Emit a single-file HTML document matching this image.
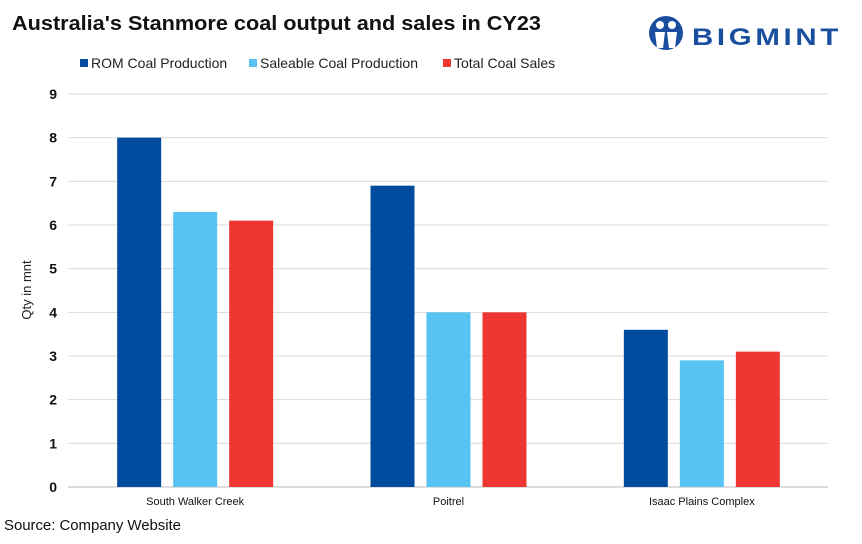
<!DOCTYPE html>
<html><head><meta charset="utf-8"><style>
body{margin:0;background:#fff;width:862px;height:539px;overflow:hidden;font-family:"Liberation Sans",sans-serif}
svg text{font-family:"Liberation Sans",sans-serif}
</style></head><body>
<svg id="c" width="862" height="539">
<text x="12" y="30" font-size="20" font-weight="bold" fill="#111" textLength="529" lengthAdjust="spacingAndGlyphs">Australia's Stanmore coal output and sales in CY23</text>
<g>
<circle cx="666" cy="33" r="17" fill="#1a4fa0"/>
<circle cx="660" cy="25" r="4" fill="#fff"/><circle cx="672" cy="25" r="4" fill="#fff"/>
<path d="M655 32 L665 32 L663 48 L657 48Z M667 32 L677 32 L675 48 L669 48Z" fill="#fff"/>
<text x="692" y="45" font-size="24" font-weight="bold" fill="#1a4fa0" textLength="150" lengthAdjust="spacingAndGlyphs" letter-spacing="3">BIGMINT</text>
</g>
<g id="legend"></g>
<g id="plot"></g>
<text transform="translate(31,290) rotate(-90)" text-anchor="middle" font-size="13" fill="#222">Qty in mnt</text>
<text x="4" y="530" font-size="15" fill="#111" textLength="177">Source: Company Website</text>
</svg>
<script>
const categories=["South Walker Creek","Poitrel","Isaac Plains Complex"];
const seriesNames=["ROM Coal Production","Saleable Coal Production","Total Coal Sales"];
const romValues=[8.0,6.9,3.6];
const saleableValues=[6.3,4.0,2.9];
const salesValues=[6.1,4.0,3.1];
const yTicks=[0,1,2,3,4,5,6,7,8,9];
const colors=["#004b9e","#56c3f2","#ee3733"];
const NS="http://www.w3.org/2000/svg";
const x0=68,x1=828,yB=487,yT=94,yMax=9;
const y=v=>yB-(v/yMax)*(yB-yT);
const band=(x1-x0)/categories.length;
const plot=document.getElementById('plot');
function mk(t,a,p){const e=document.createElementNS(NS,t);for(const k in a)e.setAttribute(k,a[k]);(p||plot).appendChild(e);return e;}
yTicks.forEach(t=>{
 const l=mk('line',{x1:x0,x2:x1,y1:y(t),y2:y(t),stroke:t===0?'#bbb':'#d9d9d9','stroke-width':1});
 
 
 const tx=mk('text',{x:57,y:y(t)+5,'text-anchor':'end','font-size':14,'font-weight':'bold',fill:'#111'});
 tx.textContent=t;
 
 
});
const all=[romValues,saleableValues,salesValues];
const bw=44,gap=12;
categories.forEach((c,i)=>{
 const cx=x0+band*(i+0.5)+0.5;
 all.forEach((s,j)=>{
  const bx=cx-(bw*1.5+gap)+j*(bw+gap);
  const r=mk('rect',{x:bx,y:y(s[i]),width:bw,height:yB-y(s[i]),fill:colors[j]});
  
  
 });
 const t=mk('text',{x:cx,y:505,'text-anchor':'middle','font-size':11,fill:'#111'});
 t.textContent=c;
 
 
});
const lg=document.getElementById('legend');
const lx=[80,249,443];
seriesNames.forEach((n,j)=>{
 const r=mk('rect',{x:lx[j],y:59,width:8,height:8,fill:colors[j]},lg);
 
 
 const t=mk('text',{x:lx[j]+11,y:68,'font-size':14,fill:'#222'},lg);
 t.textContent=n;
 
 
});
</script>
</body></html>
